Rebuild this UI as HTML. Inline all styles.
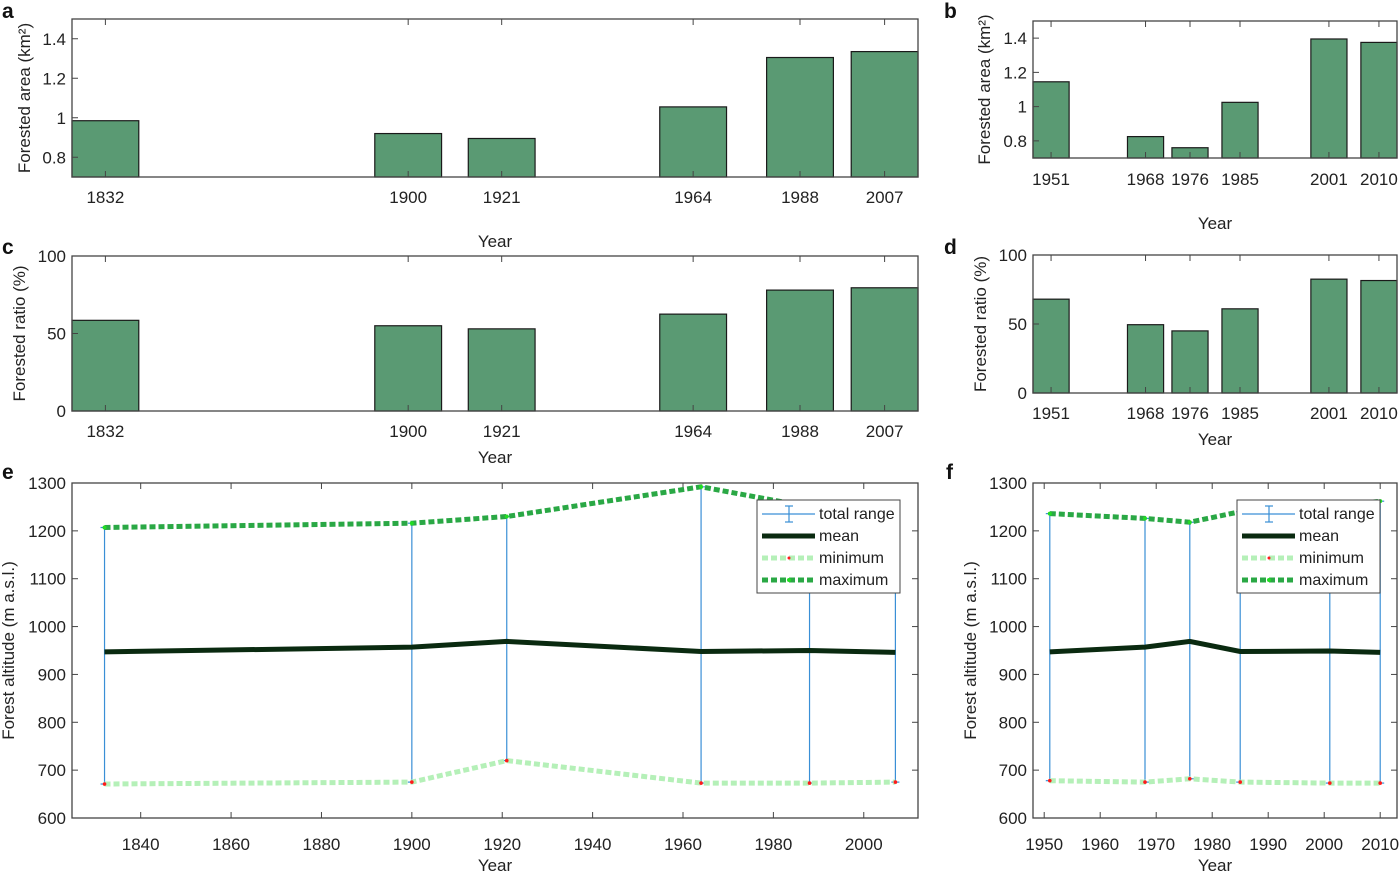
<!DOCTYPE html>
<html><head><meta charset="utf-8">
<style>
html,body{margin:0;padding:0;background:#fff;}
svg{display:block;font-family:"Liberation Sans Narrow","Liberation Sans",sans-serif;}
.tk{font-size:17px;fill:#222;}
.lg{font-size:16px;fill:#222;}
.lab{font-family:"Liberation Sans",sans-serif;font-size:17px;fill:#222;}
.pl{font-family:"Liberation Sans",sans-serif;font-size:21px;font-weight:bold;fill:#111;}
</style></head>
<body>
<svg id="fig" width="1400" height="873" viewBox="0 0 1400 873"></svg>
<script>
// ---- data ----
const yearsA = [1832, 1900, 1921, 1964, 1988, 2007];
const areaA = [0.985, 0.92, 0.895, 1.055, 1.305, 1.335];
const ratioA = [58.5, 55, 53, 62.5, 78, 79.5];
const yearsB = [1951, 1968, 1976, 1985, 2001, 2010];
const areaB = [1.145, 0.825, 0.76, 1.025, 1.395, 1.375];
const ratioB = [68, 49.5, 45, 61, 82.5, 81.5];
const meanE = [947, 957, 969, 948, 950, 946];
const minE = [671, 675, 720, 673, 673, 675];
const maxE = [1207, 1216, 1230, 1292, 1250, 1250];
const meanF = [947, 957, 969, 948, 949, 946];
const minF = [678, 675, 682, 675, 673, 673];
const maxF = [1236, 1226, 1218, 1240, 1250, 1262];
const areaTicks = [0.8, 1, 1.2, 1.4];
const areaTickLabels = ["0.8", "1", "1.2", "1.4"];
const ratioTicks = [0, 50, 100];
const altTicks = [600, 700, 800, 900, 1000, 1100, 1200, 1300];
const yearTicksE = [1840, 1860, 1880, 1900, 1920, 1940, 1960, 1980, 2000];
const yearTicksF = [1950, 1960, 1970, 1980, 1990, 2000, 2010];

const NS = "http://www.w3.org/2000/svg";
const fig = document.getElementById('fig');
function mk(tag, attrs, parent) {
  const e = document.createElementNS(NS, tag);
  for (const k in attrs) e.setAttribute(k, attrs[k]);
  (parent || fig).appendChild(e);
  return e;
}
function txt(s, x, y, cls, anchor, parent, rot) {
  const t = mk('text', {x: x, y: y, class: cls, 'text-anchor': anchor || 'middle'}, parent);
  if (rot) t.setAttribute('transform', 'rotate(-90 ' + x + ' ' + y + ')');
  t.textContent = s;
  return t;
}
function scale(d0, d1, r0, r1) { return v => r0 + (v - d0) / (d1 - d0) * (r1 - r0); }

function axesFrame(g, L, T, R, B) {
  mk('rect', {x: L, y: T, width: R - L, height: B - T, fill: 'none', stroke: '#444', 'stroke-width': 1.3}, g);
}

function barPanel(name, letter, L, T, R, B, xlim, ylim, years, vals, bw, yt, ytl, ylabel, ylabX, tickY, yearY, letX, letY) {
  const g = mk('g', {});
  
  
  const x = scale(xlim[0], xlim[1], L, R), y = scale(ylim[0], ylim[1], B, T);
  years.forEach((yr, i) => {
    const r = mk('rect', {x: x(yr - bw / 2), y: y(vals[i]), width: x(yr + bw / 2) - x(yr - bw / 2), height: B - y(vals[i]), fill: '#5a9a73', stroke: '#1a1a1a', 'stroke-width': 1.2}, g);
    
    
  });
  years.forEach(yr => {
    mk('line', {x1: x(yr), x2: x(yr), y1: B, y2: B - 6, stroke: '#444'}, g);
    mk('line', {x1: x(yr), x2: x(yr), y1: T, y2: T + 6, stroke: '#444'}, g);
    const t = txt(String(yr), x(yr), tickY, 'tk', 'middle', g);
    
    
  });
  yt.forEach((v, i) => {
    mk('line', {x1: L, x2: L + 6, y1: y(v), y2: y(v), stroke: '#444'}, g);
    const t = txt(ytl[i], L - 6, y(v) + 6, 'tk', 'end', g);
    
    
  });
  axesFrame(g, L, T, R, B);
  const xl = txt('Year', (L + R) / 2, yearY, 'lab', 'middle', g);
  
  
  const yl = txt(ylabel, ylabX, (T + B) / 2, 'lab', 'middle', g, true);
  
  
  const pl = txt(letter, letX, letY, 'pl', 'start', g);
  
  
}

function linePanel(name, letter, L, T, R, B, xlim, years, mean, mn, mx, xt, ylabX, legL, letX) {
  const g = mk('g', {});
  
  
  const x = scale(xlim[0], xlim[1], L, R), y = scale(600, 1300, B, T);
  xt.forEach(v => {
    mk('line', {x1: x(v), x2: x(v), y1: B, y2: B - 6, stroke: '#444'}, g);
    mk('line', {x1: x(v), x2: x(v), y1: T, y2: T + 6, stroke: '#444'}, g);
    const t = txt(String(v), x(v), B + 32, 'tk', 'middle', g);
    
    
  });
  altTicks.forEach(v => {
    mk('line', {x1: L, x2: L + 6, y1: y(v), y2: y(v), stroke: '#444'}, g);
    mk('line', {x1: R, x2: R - 6, y1: y(v), y2: y(v), stroke: '#444'}, g);
    const t = txt(String(v), L - 6, y(v) + 6, 'tk', 'end', g);
    
    
  });
  years.forEach((yr, i) => {
    const eb = mk('g', {}, g);
    
    
    mk('line', {x1: x(yr), x2: x(yr), y1: y(mn[i]), y2: y(mx[i]), stroke: '#3a8fd6', 'stroke-width': 1.2}, eb);
    mk('line', {x1: x(yr) - 4, x2: x(yr) + 4, y1: y(mn[i]), y2: y(mn[i]), stroke: '#3a8fd6', 'stroke-width': 1.2}, eb);
    mk('line', {x1: x(yr) - 4, x2: x(yr) + 4, y1: y(mx[i]), y2: y(mx[i]), stroke: '#3a8fd6', 'stroke-width': 1.2}, eb);
  });
  const pts = arr => years.map((yr, i) => x(yr).toFixed(1) + ',' + y(arr[i]).toFixed(1)).join(' ');
  const lmin = mk('polyline', {points: pts(mn), fill: 'none', stroke: '#b5f0b8', 'stroke-width': 5, 'stroke-dasharray': '6 3'}, g);
  
  
  const lmax = mk('polyline', {points: pts(mx), fill: 'none', stroke: '#2aa845', 'stroke-width': 5, 'stroke-dasharray': '6 3'}, g);
  
  
  const lmean = mk('polyline', {points: pts(mean), fill: 'none', stroke: '#0a2a10', 'stroke-width': 5}, g);
  
  
  years.forEach((yr, i) => {
    mk('circle', {cx: x(yr), cy: y(mn[i]), r: 1.8, fill: '#ff1a1a'}, g);
    mk('circle', {cx: x(yr), cy: y(mx[i]), r: 2, fill: '#22dd22'}, g);
  });
  axesFrame(g, L, T, R, B);
  const lg = mk('g', {}, g);
  
  
  const lt = T + 17;
  mk('rect', {x: legL, y: lt, width: 143, height: 93, fill: '#fff', stroke: '#444', 'stroke-width': 1}, lg);
  const rows = [lt + 14, lt + 36, lt + 58, lt + 80];
  mk('line', {x1: legL + 5, x2: legL + 58, y1: rows[0], y2: rows[0], stroke: '#3a8fd6', 'stroke-width': 1.2}, lg);
  mk('line', {x1: legL + 32, x2: legL + 32, y1: rows[0] - 8, y2: rows[0] + 8, stroke: '#3a8fd6', 'stroke-width': 1.2}, lg);
  mk('line', {x1: legL + 28, x2: legL + 36, y1: rows[0] - 8, y2: rows[0] - 8, stroke: '#3a8fd6', 'stroke-width': 1.2}, lg);
  mk('line', {x1: legL + 28, x2: legL + 36, y1: rows[0] + 8, y2: rows[0] + 8, stroke: '#3a8fd6', 'stroke-width': 1.2}, lg);
  mk('line', {x1: legL + 5, x2: legL + 58, y1: rows[1], y2: rows[1], stroke: '#0a2a10', 'stroke-width': 5}, lg);
  mk('line', {x1: legL + 5, x2: legL + 58, y1: rows[2], y2: rows[2], stroke: '#b5f0b8', 'stroke-width': 5, 'stroke-dasharray': '6 3'}, lg);
  mk('circle', {cx: legL + 32, cy: rows[2], r: 1.5, fill: '#ff1a1a'}, lg);
  mk('line', {x1: legL + 5, x2: legL + 58, y1: rows[3], y2: rows[3], stroke: '#2aa845', 'stroke-width': 5, 'stroke-dasharray': '6 3'}, lg);
  mk('circle', {cx: legL + 32, cy: rows[3], r: 2, fill: '#22dd22'}, lg);
  ['total range', 'mean', 'minimum', 'maximum'].forEach((s, i) => {
    const t = txt(s, legL + 62, rows[i] + 5, 'lg', 'start', lg);
    
    
  });
  const xl = txt('Year', (L + R) / 2, B + 53, 'lab', 'middle', g);
  
  
  const yl = txt('Forest altitude (m a.s.l.)', ylabX, (T + B) / 2, 'lab', 'middle', g, true);
  
  
  const pl = txt(letter, letX, T - 4, 'pl', 'start', g);
  
  
}

barPanel('panel-a', 'a', 72, 19, 918, 177, [1824.5, 2014.5], [0.7, 1.5], yearsA, areaA, 15, areaTicks, areaTickLabels, 'Forested area (km\u00B2)', 30, 203, 247, 2, 18);
barPanel('panel-b', 'b', 1033, 21, 1397, 158, [1947.75, 2013.25], [0.7, 1.5], yearsB, areaB, 6.5, areaTicks, areaTickLabels, 'Forested area (km\u00B2)', 990, 185, 229, 944, 18);
barPanel('panel-c', 'c', 72, 256, 918, 411, [1824.5, 2014.5], [0, 100], yearsA, ratioA, 15, ratioTicks, ['0', '50', '100'], 'Forested ratio (%)', 25, 437, 463, 2, 254);
barPanel('panel-d', 'd', 1033, 255, 1397, 393, [1947.75, 2013.25], [0, 100], yearsB, ratioB, 6.5, ratioTicks, ['0', '50', '100'], 'Forested ratio (%)', 986, 419, 445, 944, 254);
linePanel('panel-e', 'e', 72, 483, 918, 818, [1824.8, 2012], yearsA, meanE, minE, maxE, yearTicksE, 14, 757, 2);
linePanel('panel-f', 'f', 1033, 483, 1397, 818, [1948, 2013], yearsB, meanF, minF, maxF, yearTicksF, 976, 1237, 946);
</script>
</body></html>
